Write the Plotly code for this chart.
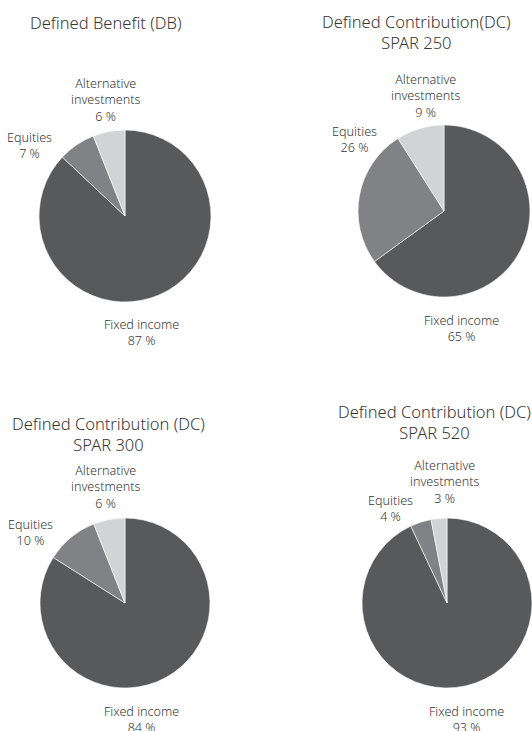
import plotly.graph_objects as go

W, H = 532, 731

categories = ["Fixed income", "Equities", "Alternative investments"]
label_text = ["Fixed income", "Equities", "Alternative<br>investments"]
titles = ["Defined Benefit (DB)",
          "Defined Contribution(DC)<br>SPAR 250",
          "Defined Contribution (DC)<br>SPAR 300",
          "Defined Contribution (DC)<br>SPAR 520"]
db_values = [87, 7, 6]
spar250_values = [65, 26, 9]
spar300_values = [84, 10, 6]
spar520_values = [93, 4, 3]
all_values = [db_values, spar250_values, spar300_values, spar520_values]

colors = ["#58595b", "#808285", "#d1d3d4"]
font_family = "Noto Sans, DejaVu Sans, sans-serif"
text_color = "#363636"

# layout: pixel boxes for pies (left, top, right, bottom)
pie_boxes = [(39, 130, 211, 302), (358, 125, 530, 297),
             (40, 518, 210, 688), (362, 518, 532, 688)]
title_pos = [(106, 22), (416, 32), (108, 434), (434, 422)]
# label anchor (center x, top y) per category per pie
label_pos = [
    [(141, 314), (29, 127), (105, 73)],
    [(461, 310), (354, 121), (425, 69)],
    [(141, 701), (30, 514), (105, 460)],
    [(466, 701), (390, 490), (444, 455)],
]

fig = go.Figure()
annotations = []
for i, vals in enumerate(all_values):
    l, t, r, b = pie_boxes[i]
    fig.add_trace(go.Pie(
        labels=categories, values=vals, sort=False, direction="clockwise",
        rotation=0, textinfo="none", hoverinfo="label+percent",
        marker=dict(colors=colors, line=dict(color="white", width=0.6)),
        domain=dict(x=[l / W, r / W], y=[1 - b / H, 1 - t / H]),
        showlegend=False,
    ))
    tx, ty = title_pos[i]
    annotations.append(dict(text=titles[i], x=tx / W, y=1 - ty / H, xref="paper", yref="paper",
                            showarrow=False, xanchor="center", yanchor="middle",
                            font=dict(size=16.5, color=text_color, family=font_family, weight=300)))
    for j, v in enumerate(vals):
        lx, ly = label_pos[i][j]
        annotations.append(dict(text=f"{label_text[j]}<br>{v} %", x=lx / W, y=1 - ly / H,
                                xref="paper", yref="paper", showarrow=False,
                                xanchor="center", yanchor="top", align="center",
                                font=dict(size=12.6, color=text_color, family=font_family, weight=300)))

fig.update_layout(width=W, height=H, margin=dict(l=0, r=0, t=0, b=0),
                  paper_bgcolor="white", plot_bgcolor="white",
                  annotations=annotations)
fig.write_html("out.html")
